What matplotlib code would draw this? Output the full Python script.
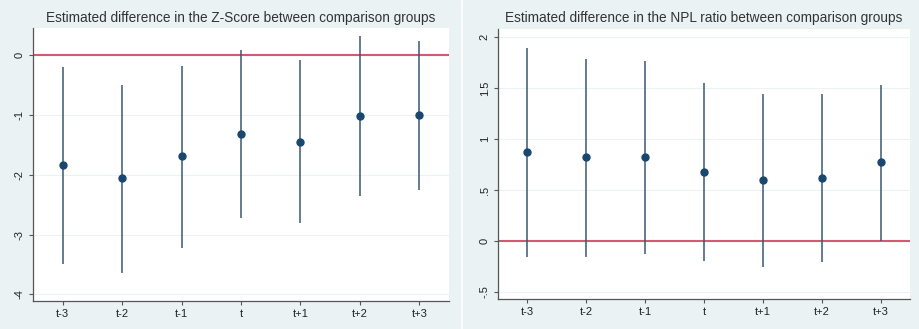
import numpy as np
import matplotlib.pyplot as plt
from matplotlib.patches import Rectangle

periods = ["t-3", "t-2", "t-1", "t", "t+1", "t+2", "t+3"]

z_est = [-1.83, -2.06, -1.69, -1.32, -1.45, -1.02, -1.00]
z_lo = [-3.50, -3.65, -3.23, -2.73, -2.81, -2.36, -2.25]
z_hi = [-0.20, -0.50, -0.18, 0.08, -0.08, 0.32, 0.23]

npl_est = [0.87, 0.82, 0.82, 0.68, 0.60, 0.62, 0.77]
npl_lo = [-0.16, -0.16, -0.13, -0.20, -0.26, -0.21, 0.00]
npl_hi = [1.89, 1.79, 1.77, 1.55, 1.44, 1.44, 1.53]

z_ticks = [0, -1, -2, -3, -4]
z_ticklabels = ["0", "-1", "-2", "-3", "-4"]
npl_ticks = [-0.5, 0, 0.5, 1, 1.5, 2]
npl_ticklabels = ["-.5", "0", ".5", "1", "1.5", "2"]

plt.rcParams['font.family'] = ['Liberation Sans', 'DejaVu Sans']

W, H = 920, 329
fig = plt.figure(figsize=(W / 100, H / 100), dpi=100)
fig.patch.set_facecolor("white")

bg = "#EAF2F3"
navy = "#1A476F"
whisk = "#3A5775"
red = "#D25A72"

# panel backgrounds (pixel coords)
for x0, x1 in [(0, 460), (463, 920)]:
    fig.patches.append(Rectangle((x0 / W, 0), (x1 - x0) / W, 1,
                                 transform=fig.transFigure, color=bg, zorder=-5))


def panel(rect, est, lo, hi, ticks, ticklabels, ylim, title):
    l, t, r, b = rect
    ax = fig.add_axes([l / W, 1 - b / H, (r - l) / W, (b - t) / H])
    ax.set_zorder(1)
    ax.set_facecolor("white")
    x = np.arange(len(periods))
    ax.vlines(x, lo, hi, color=whisk, lw=1.1, zorder=2)
    ax.plot(x, est, "o", color=navy, ms=5, zorder=3)
    ax.axhline(0, color=red, lw=1.5, zorder=1)
    for tk in ticks:
        ax.axhline(tk, color=bg, lw=0.8, zorder=0)
    ax.set_xlim(-0.5, len(periods) - 0.5)
    ax.set_ylim(*ylim)
    ax.set_xticks(x)
    ax.set_xticklabels(periods, fontsize=8, color="#222222")
    ax.set_yticks(ticks)
    ax.set_yticklabels(ticklabels, fontsize=8, color="#222222",
                       rotation=90, va="center")
    ax.tick_params(length=3, width=0.8, color="#555555", pad=3)
    for s in ["top", "right"]:
        ax.spines[s].set_visible(False)
    for s in ["left", "bottom"]:
        ax.spines[s].set_color("#555555")
        ax.spines[s].set_linewidth(0.9)
    fig.text((l + r) / 2 / W, 1 - 18 / H, title, ha="center", va="center",
             fontsize=9.8, color="#333333")
    return ax


panel((33, 28, 449, 301), z_est, z_lo, z_hi, z_ticks, z_ticklabels,
      (-4.11, 0.45),
      "Estimated difference in the Z-Score between comparison groups")
panel((498, 29, 910, 299), npl_est, npl_lo, npl_hi, npl_ticks, npl_ticklabels,
      (-0.57, 2.08),
      "Estimated difference in the NPL ratio between comparison groups")

fig.savefig("out.png", dpi=100)
